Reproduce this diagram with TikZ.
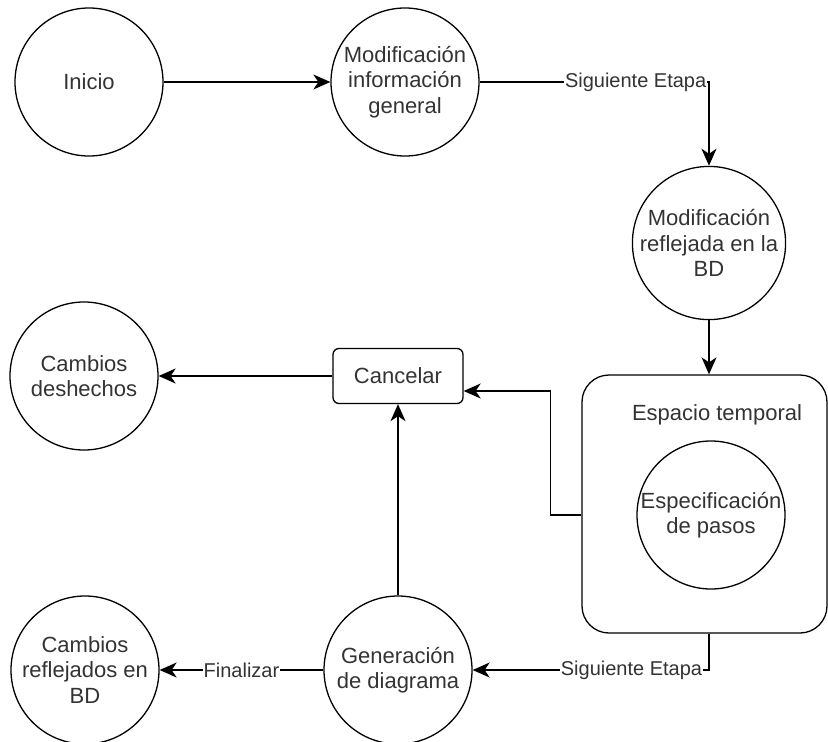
\documentclass[tikz,border=0pt]{standalone}
\usepackage{fontspec}
\setmainfont{Liberation Sans}
\usetikzlibrary{arrows.meta,calc}
\begin{document}
\begin{tikzpicture}[x=1pt,y=-1pt,
  state/.style={circle, draw, line width=1.3pt, minimum size=148pt, inner sep=0pt, align=center,
    font=\fontsize{22}{25.5}\selectfont, text=black!80},
  cbox/.style={rectangle, rounded corners=6pt, draw, line width=1.3pt, minimum width=130pt,
    minimum height=55pt, font=\fontsize{22}{25.5}\selectfont, text=black!80},
  container/.style={rectangle, rounded corners=27pt, draw, line width=1.3pt, minimum width=245pt,
    minimum height=258pt},
  ttl/.style={font=\fontsize{22}{25.5}\selectfont, text=black!80},
  flow/.style={-{Stealth[length=17pt,width=15pt,inset=5pt]}, line width=1.4pt},
  lbl/.style={fill=white, inner sep=1pt, font=\fontsize{20}{24}\selectfont, text=black!80}]
\useasboundingbox (0,0) rectangle (828,742);

\node[state] (inicio) at (89,82) {Inicio};
\node[state] (modinfo) at (405,82) {Modificación\\información\\general};
\node[state] (modrefl) at (709,243) {Modificación\\reflejada en la\\BD};
\node[state] (deshechos) at (84,376) {Cambios\\deshechos};
\node[cbox] (cancel) at (398,376) {Cancelar};
\node[container] (esp) at (704.5,504) {};
\node[ttl] (esptitle) at (717,415) {Espacio temporal};
\node[state] (spec) at (711,515) {Especificación\\de pasos};
\node[state] (reflej) at (85,670) {Cambios\\reflejados en\\BD};
\node[state] (gen) at (398,670) {Generación\\de diagrama};

\coordinate (cin) at ($(cancel.east)+(0,15)$);

\draw[flow] (inicio) -- (modinfo);
\draw[flow] (modinfo.east) -| node[lbl,pos=0.34] {Siguiente Etapa} (modrefl.north);
\draw[flow] (modrefl.south) -- (modrefl.south |- esp.north);
\draw[flow] (esp.west |- spec.center) -- ++(-31,0) |- (cin);
\draw[flow] (cancel) -- (deshechos);
\draw[flow] (gen) -- (cancel);
\draw[flow] (esp.south -| modrefl) |- node[lbl,pos=0.664] {Siguiente Etapa} (gen);
\draw[flow] (gen) -- node[lbl] {Finalizar} (reflej);
\end{tikzpicture}
\end{document}
